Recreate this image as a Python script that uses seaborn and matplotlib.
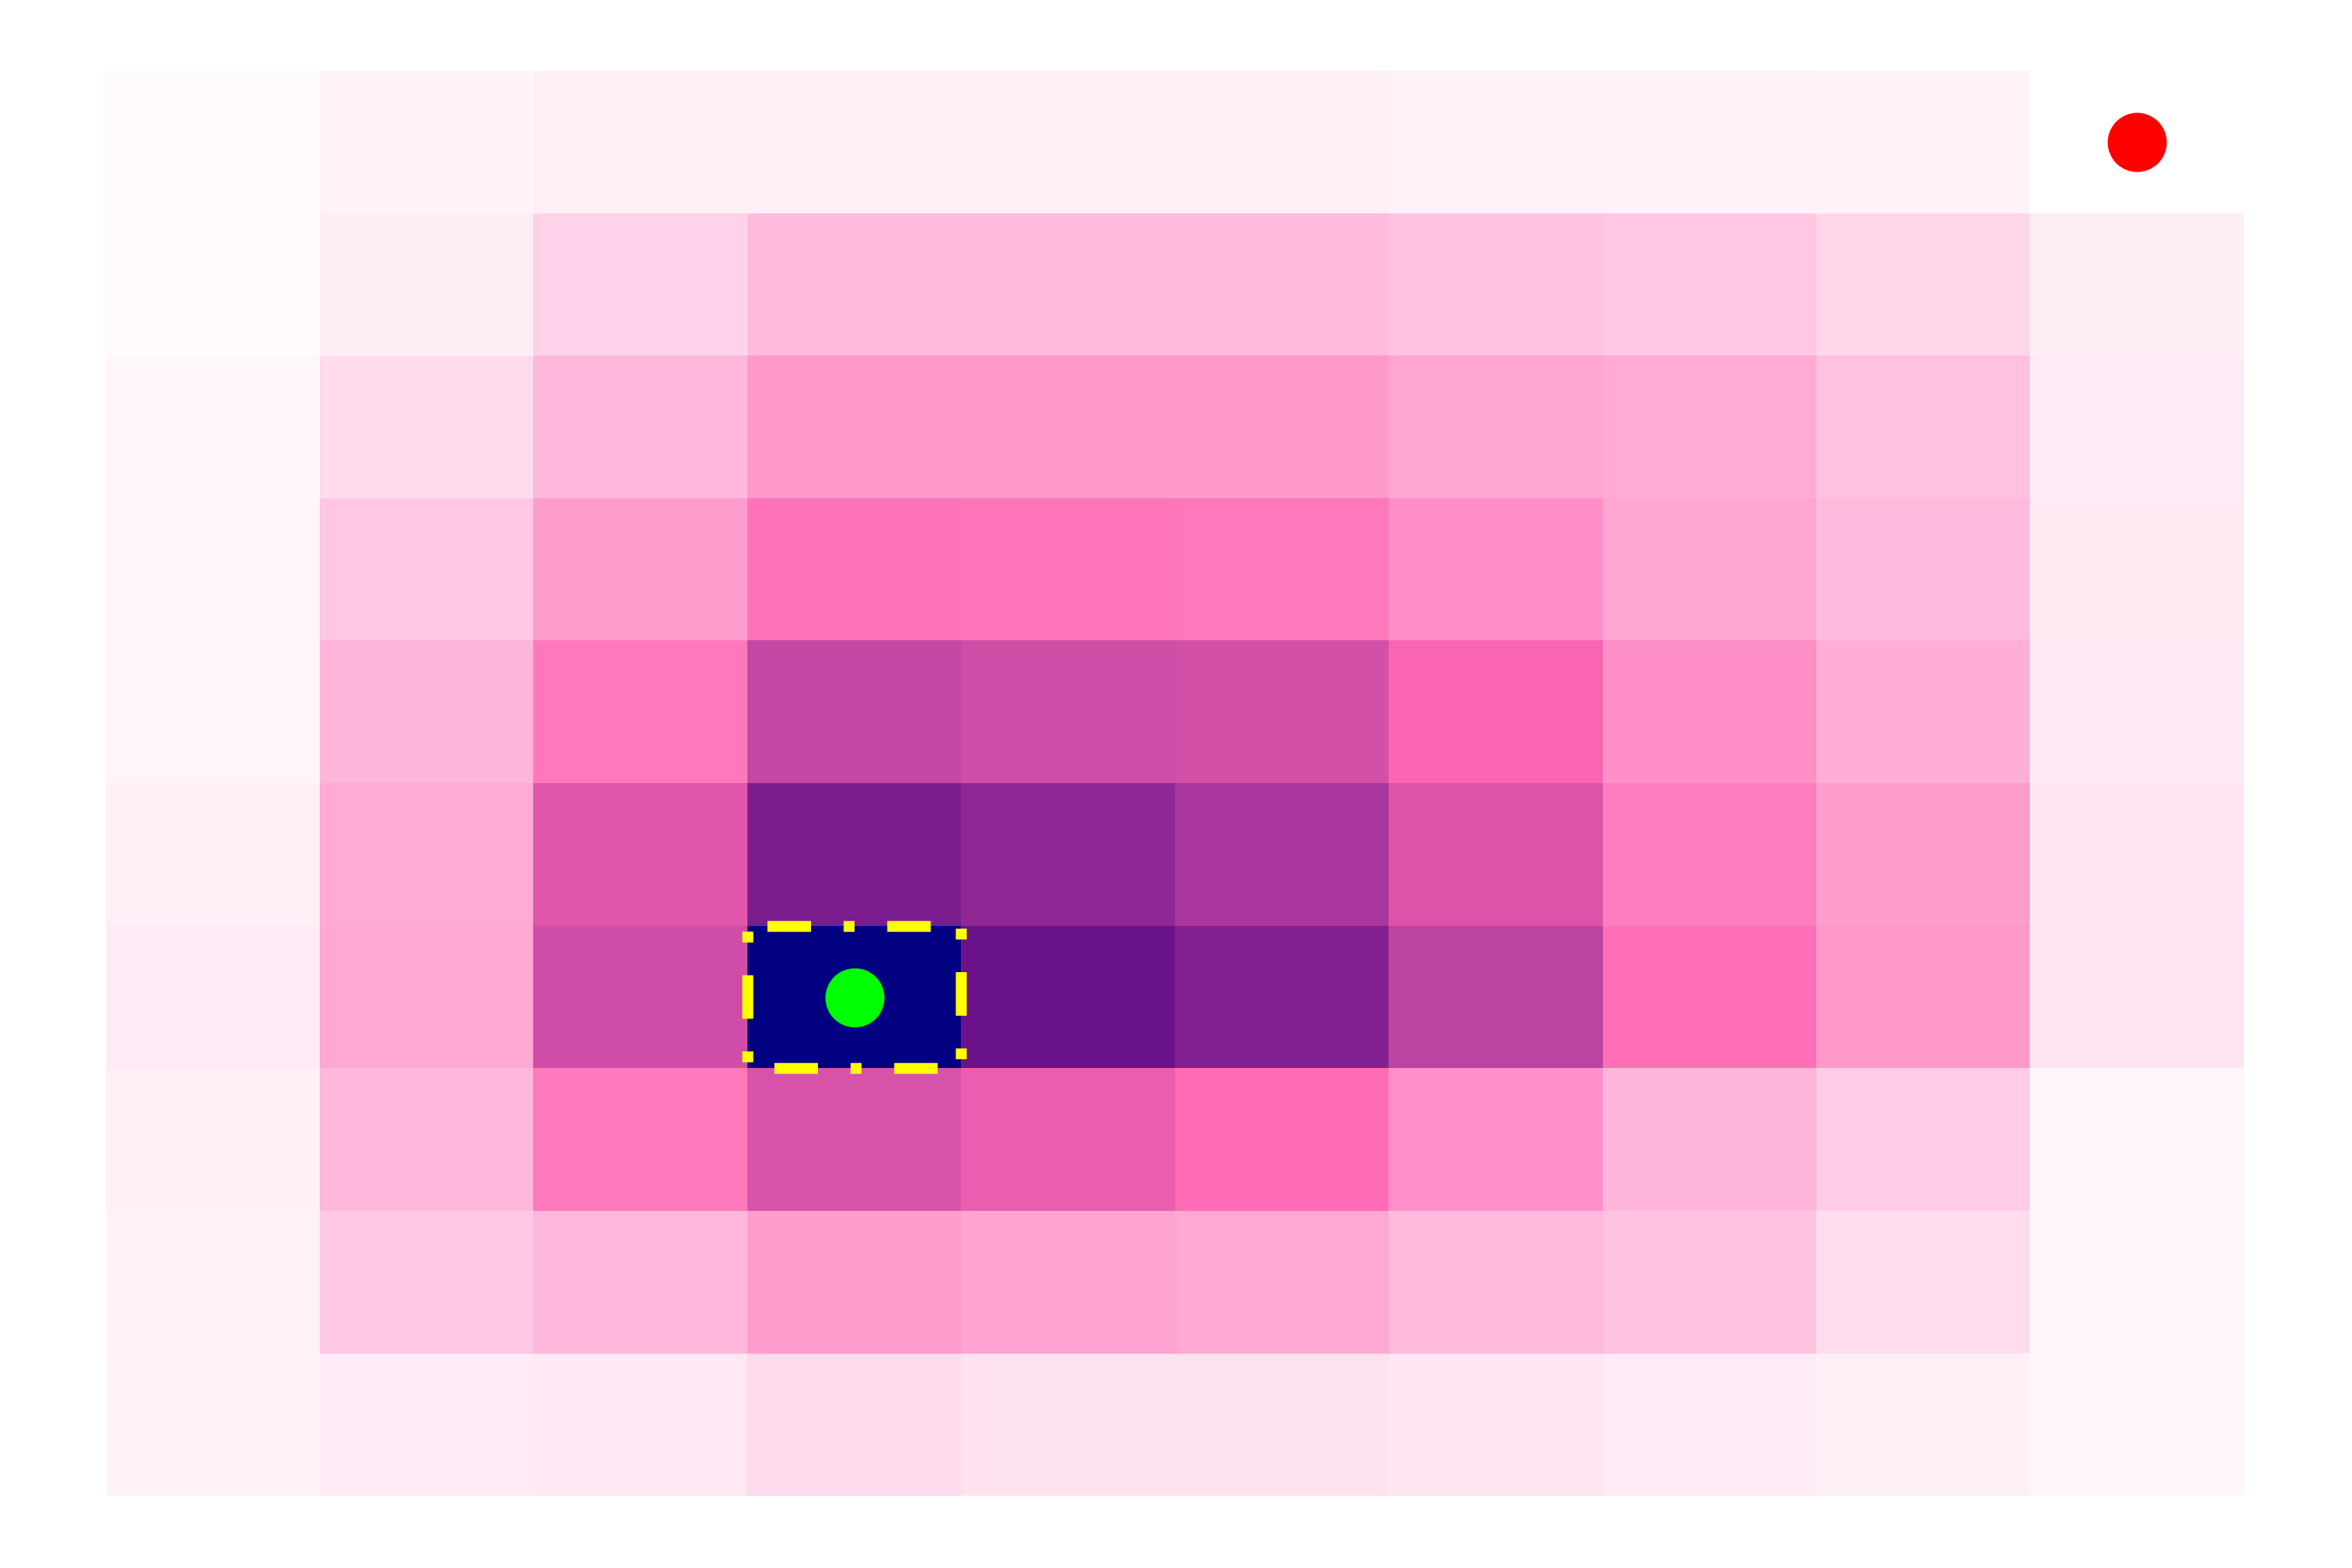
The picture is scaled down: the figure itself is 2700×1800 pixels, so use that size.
import numpy as np
import matplotlib
matplotlib.use("Agg")
import matplotlib.pyplot as plt
from matplotlib.colors import LinearSegmentedColormap
from matplotlib.patches import Rectangle
import seaborn as sns

# cell values (0 = white, 0.5 = hot pink, 1 = deep indigo)
row_0 = [0.017, 0.040, 0.053, 0.057, 0.057, 0.055, 0.050, 0.050, 0.040, np.nan]
row_1 = [0.017, 0.060, 0.150, 0.233, 0.233, 0.233, 0.203, 0.190, 0.140, 0.060]
row_2 = [0.035, 0.120, 0.240, 0.343, 0.343, 0.343, 0.297, 0.280, 0.210, 0.070]
row_3 = [0.035, 0.190, 0.330, 0.467, 0.460, 0.450, 0.377, 0.297, 0.230, 0.073]
row_4 = [0.035, 0.250, 0.450, 0.661, 0.633, 0.619, 0.519, 0.373, 0.273, 0.077]
row_5 = [0.057, 0.280, 0.586, 0.867, 0.811, 0.742, 0.600, 0.437, 0.330, 0.083]
row_6 = [0.070, 0.290, 0.631, 1.000, 0.908, 0.844, 0.681, 0.483, 0.343, 0.097]
row_7 = [0.057, 0.240, 0.450, 0.611, 0.558, 0.490, 0.370, 0.250, 0.170, 0.035]
row_8 = [0.043, 0.180, 0.243, 0.330, 0.307, 0.290, 0.233, 0.200, 0.117, 0.035]
row_9 = [0.040, 0.067, 0.080, 0.127, 0.100, 0.100, 0.083, 0.070, 0.053, 0.033]

grid = np.array([row_0, row_1, row_2, row_3, row_4,
                 row_5, row_6, row_7, row_8, row_9])

cmap = LinearSegmentedColormap.from_list("pinks", ["white", "hotpink", "indigo"])

fig, ax = plt.subplots(figsize=(9, 6), dpi=300)
fig.subplots_adjust(left=0.045, right=0.954, bottom=0.046, top=0.955)

sns.heatmap(grid, cmap=cmap, vmin=0, vmax=1, cbar=False,
            xticklabels=False, yticklabels=False, ax=ax)

# highlight the peak cell
peak_r, peak_c = np.unravel_index(np.nanargmax(grid), grid.shape)
ax.add_patch(Rectangle((peak_c, peak_r), 1, 1, facecolor="navy", edgecolor="none"))
ax.add_patch(Rectangle((peak_c, peak_r), 1, 1, fill=False, edgecolor="yellow",
                       linewidth=3.0, linestyle=(9.2, (4, 3, 1, 3)),
                       capstyle="butt"))
ax.plot(peak_c + 0.5, peak_r + 0.5, "o", color="lime", ms=16.3, mew=0)

# mark the missing cell
miss_r, miss_c = np.argwhere(np.isnan(grid))[0]
ax.plot(miss_c + 0.5, miss_r + 0.5, "o", color="red", ms=16.3, mew=0)

ax.set_xlabel("")
ax.set_ylabel("")
fig.savefig("out.png", dpi=300)
